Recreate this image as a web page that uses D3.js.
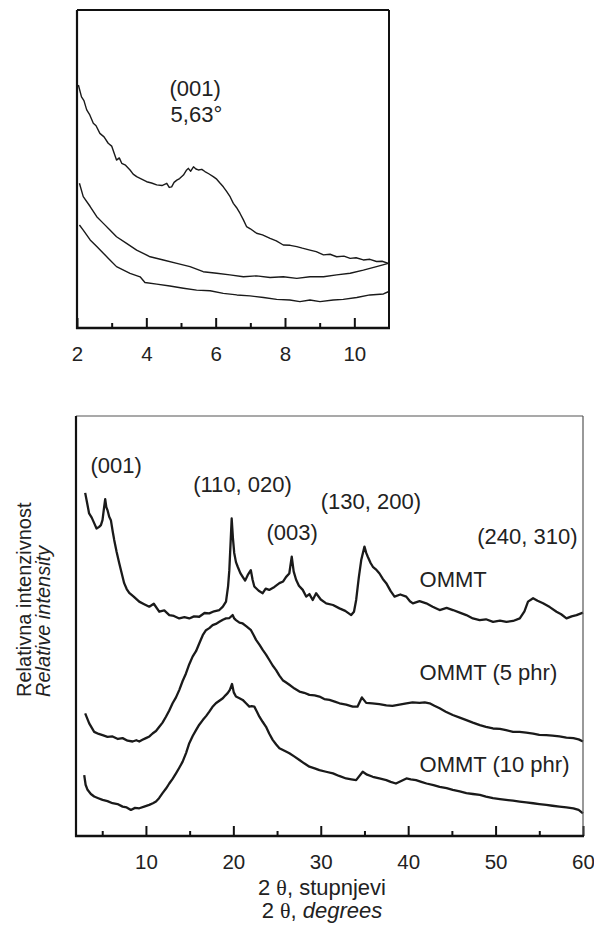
<!DOCTYPE html>
<html>
<head>
<meta charset="utf-8">
<script src="https://cdn.jsdelivr.net/npm/d3@7"></script>
<style>
  body { margin: 0; background: #fff; }
  svg { display: block; font-family: "Liberation Sans", Arial, sans-serif; }
</style>
</head>
<body>
<div id="chart"></div>
<script>
// Inset: low angle region, [2θ (deg), relative intensity 0-100]
const insetOmmt = [[2.04,76.4],[2.13,72.7],[2.2,71.5],[2.28,68.6],[2.36,67.2],[2.47,64.4],[2.55,63.6],[2.66,61.2],[2.78,60.1],[2.9,58.1],[3.0,57.2],[3.14,52.8],[3.22,53.5],[3.29,51.8],[3.4,51.2],[3.53,49.7],[3.62,48.4],[3.72,47.6],[3.85,46.9],[4.01,46.0],[4.15,45.6],[4.3,45.0],[4.45,44.8],[4.59,45.5],[4.66,44.2],[4.73,44.4],[4.8,45.8],[4.88,46.5],[4.96,47.0],[5.07,48.1],[5.15,49.5],[5.21,50.2],[5.28,49.3],[5.36,50.7],[5.43,50.0],[5.5,49.7],[5.6,49.9],[5.69,49.2],[5.8,48.5],[5.93,47.6],[6.03,46.8],[6.13,45.5],[6.22,44.4],[6.32,42.9],[6.42,41.2],[6.51,39.2],[6.6,37.9],[6.7,36.1],[6.8,34.0],[6.89,31.9],[7.0,31.2],[7.18,29.8],[7.35,29.3],[7.57,28.2],[7.75,27.4],[7.95,26.1],[8.15,26.0],[8.34,25.6],[8.5,25.1],[8.72,24.5],[8.9,24.0],[9.11,23.0],[9.3,23.2],[9.49,22.4],[9.7,22.6],[9.88,21.9],[10.05,22.1],[10.26,21.4],[10.45,21.6],[10.64,20.9],[10.8,21.0],[10.98,20.3]];
const insetPhr5 = [[2.07,45.5],[2.18,41.3],[2.38,38.2],[2.57,35.0],[2.76,32.9],[2.95,30.8],[3.14,28.7],[3.43,26.6],[3.72,24.5],[4.11,22.4],[4.49,21.4],[4.88,20.3],[5.26,19.3],[5.64,17.7],[6.03,17.2],[6.41,16.7],[6.8,16.1],[7.18,16.4],[7.57,15.9],[7.95,16.1],[8.34,15.6],[8.72,16.1],[9.11,16.1],[9.49,16.7],[9.88,17.2],[10.26,18.2],[10.64,19.3],[10.98,20.3]];
const insetPhr10 = [[2.07,32.4],[2.18,30.8],[2.38,27.7],[2.57,25.6],[2.76,23.5],[2.95,21.4],[3.14,19.3],[3.53,17.2],[3.82,16.1],[3.96,14.3],[4.3,13.8],[4.68,13.2],[5.07,12.5],[5.45,11.9],[5.84,11.7],[6.22,10.9],[6.61,10.4],[6.99,10.1],[7.38,9.6],[7.76,9.0],[8.14,8.8],[8.43,8.3],[8.72,8.8],[9.01,8.3],[9.39,8.8],[9.68,9.0],[10.07,9.6],[10.45,10.4],[10.84,10.7],[10.98,11.4]];

// Main pattern, [2θ (deg), relative intensity 0-100]
const ommt = [[3.05,81.7],[3.3,79.0],[3.5,76.8],[3.8,75.8],[4.08,74.5],[4.35,73.2],[4.65,73.6],[4.85,74.0],[5.03,75.2],[5.2,78.0],[5.34,80.2],[5.47,78.3],[5.6,77.6],[5.8,76.0],[5.99,75.2],[6.2,72.5],[6.37,70.5],[6.65,67.6],[6.94,65.0],[7.2,62.8],[7.51,60.2],[7.8,58.8],[8.09,57.9],[8.6,57.0],[9.23,55.8],[9.8,55.2],[10.38,54.6],[10.9,55.3],[11.52,53.4],[12.1,53.7],[12.67,52.6],[13.2,52.4],[13.81,51.8],[14.4,52.1],[14.96,51.8],[15.5,52.3],[16.1,52.2],[16.7,53.1],[17.25,53.0],[17.8,53.5],[18.4,53.8],[18.8,54.6],[19.16,55.8],[19.4,59.5],[19.54,63.3],[19.7,70.5],[19.81,75.6],[19.95,71.0],[20.1,67.4],[20.3,65.2],[20.5,64.1],[20.8,62.6],[21.07,61.7],[21.35,60.8],[21.64,62.1],[22.0,63.3],[22.2,61.0],[22.4,59.4],[22.9,58.4],[23.36,57.8],[23.7,58.9],[24.1,58.6],[24.7,59.3],[25.27,60.2],[25.7,60.6],[26.04,61.7],[26.4,62.5],[26.68,66.5],[26.9,63.0],[27.18,61.0],[27.5,59.6],[27.94,58.6],[28.33,57.0],[28.7,57.6],[29.08,56.2],[29.47,57.8],[30.0,56.3],[30.62,55.4],[31.4,55.0],[32.14,54.2],[32.8,53.6],[33.48,52.6],[33.8,53.4],[34.05,56.2],[34.35,61.5],[34.63,65.7],[35.0,68.9],[35.2,67.4],[35.38,66.5],[35.7,65.0],[35.96,64.1],[36.3,63.5],[36.72,62.5],[37.1,61.2],[37.49,60.2],[38.0,58.3],[38.44,57.0],[39.1,57.5],[39.78,57.0],[40.2,55.9],[40.54,55.4],[41.3,55.9],[42.07,55.4],[42.8,54.6],[43.6,53.8],[44.4,54.3],[45.12,53.8],[45.9,53.2],[46.65,52.6],[47.4,51.8],[48.18,51.4],[48.9,51.6],[49.71,51.0],[50.5,51.3],[51.24,51.0],[52.0,51.2],[52.77,51.8],[53.3,53.5],[53.71,55.8],[54.29,56.6],[54.8,56.0],[55.43,55.4],[56.2,54.5],[56.97,53.4],[57.5,52.8],[58.11,51.8],[58.7,52.3],[59.26,52.6],[60.0,53.2]];
const ommt5 = [[3.05,29.2],[3.51,26.8],[4.08,24.8],[4.6,24.3],[5.04,24.0],[5.6,23.6],[6.18,23.7],[6.8,23.1],[7.33,23.3],[7.9,22.7],[8.47,22.5],[8.9,22.8],[9.24,22.5],[9.6,22.9],[10.0,23.3],[10.4,23.7],[10.76,24.4],[11.15,25.0],[11.53,26.0],[11.9,27.0],[12.29,28.4],[12.67,29.9],[13.05,31.6],[13.44,33.0],[13.82,34.8],[14.2,36.9],[14.58,38.7],[14.96,40.9],[15.34,42.7],[15.73,44.0],[16.11,45.9],[16.5,47.8],[16.87,49.0],[17.25,49.5],[17.63,50.2],[18.0,50.5],[18.4,51.0],[18.8,51.5],[19.16,51.8],[19.55,51.9],[19.92,52.6],[20.1,51.8],[20.3,51.4],[20.7,50.8],[21.07,50.6],[21.5,49.9],[22.02,49.0],[22.3,47.9],[22.6,46.7],[23.0,45.5],[23.36,44.3],[23.74,43.2],[24.12,41.9],[24.5,40.6],[24.89,39.5],[25.27,38.2],[25.65,37.1],[26.0,36.6],[26.41,36.0],[27.0,35.1],[27.56,34.4],[28.1,34.1],[28.7,33.6],[29.3,33.5],[29.85,33.2],[30.4,32.6],[31.0,32.4],[31.6,32.0],[32.14,31.6],[32.9,31.3],[33.66,30.8],[34.2,30.8],[34.7,33.0],[35.2,31.7],[35.9,31.6],[36.7,31.4],[37.5,31.1],[38.2,31.0],[39.0,31.3],[39.8,31.6],[40.5,31.8],[41.3,31.7],[41.9,31.8],[42.45,31.6],[43.0,31.0],[43.6,30.4],[44.3,29.6],[45.1,28.8],[45.9,28.2],[46.66,27.6],[47.4,27.0],[48.2,26.4],[48.9,26.0],[49.7,25.6],[50.5,25.5],[51.2,25.2],[52.0,24.8],[52.75,24.8],[53.5,24.6],[54.3,24.4],[55.0,24.1],[55.8,24.0],[56.5,23.9],[57.3,23.7],[58.1,23.4],[58.9,23.3],[59.5,23.0],[60.0,22.5]];
const ommt10 = [[2.94,14.5],[3.1,12.2],[3.32,11.0],[3.7,10.0],[4.08,9.4],[4.55,9.0],[5.04,8.6],[5.6,8.3],[6.18,7.8],[6.75,7.6],[7.33,7.0],[7.8,6.8],[8.28,6.2],[8.75,6.7],[9.24,6.6],[9.8,7.0],[10.38,7.4],[10.8,7.8],[11.15,8.2],[11.5,9.0],[11.9,10.2],[12.3,11.3],[12.67,12.5],[13.05,13.6],[13.44,14.9],[13.8,16.2],[14.2,17.7],[14.6,19.8],[14.96,22.1],[15.35,23.8],[15.73,25.2],[16.1,26.5],[16.5,27.6],[16.9,28.6],[17.25,29.6],[17.6,30.7],[18.0,31.6],[18.4,32.2],[18.8,32.8],[19.1,33.5],[19.35,34.0],[19.6,34.8],[19.85,36.2],[20.05,34.2],[20.3,33.2],[20.7,32.8],[21.07,32.4],[21.45,31.6],[21.83,30.8],[22.1,30.9],[22.4,30.8],[22.7,29.6],[22.98,28.4],[23.35,27.2],[23.74,26.0],[24.1,24.4],[24.5,22.9],[24.9,21.8],[25.27,20.9],[25.85,20.3],[26.41,19.7],[27.0,18.9],[27.56,18.1],[28.1,17.3],[28.7,16.5],[29.3,16.1],[29.85,15.7],[30.6,15.3],[31.4,14.9],[32.1,14.3],[32.9,13.7],[33.5,13.5],[34.05,13.3],[34.8,15.3],[35.3,14.6],[35.95,14.1],[36.7,13.7],[37.5,13.3],[38.0,12.9],[38.6,12.5],[39.2,13.1],[39.8,13.7],[40.3,13.5],[40.9,13.3],[41.5,12.9],[42.1,12.5],[42.9,12.1],[43.6,11.7],[44.4,11.4],[45.1,11.0],[45.9,10.6],[46.66,10.2],[47.4,10.0],[48.2,9.8],[48.9,9.4],[49.7,9.0],[50.5,8.8],[51.2,8.6],[52.0,8.4],[52.75,8.2],[53.5,8.0],[54.3,7.8],[55.0,7.6],[55.8,7.4],[56.5,7.2],[57.3,7.0],[58.1,6.8],[58.9,6.6],[59.5,6.2],[60.0,5.4]];

// Tick values
const insetMajor = [2, 4, 6, 8, 10];
const insetMinor = [3, 5, 7, 9];
const mainMajor = [10, 20, 30, 40, 50, 60];
const mainMinor = [5, 15, 25, 35, 45, 55];

// Peak labels: [text, 2θ position of left edge, intensity of baseline]
const insetLabels = [["(001)", 4.67, 72.8], ["5,63°", 4.7, 64.7]];
const mainLabels = [
    ["(001)", 3.65, 86.4], ["(110, 020)", 15.4, 81.9], ["(003)", 23.8, 70.5],
    ["(130, 200)", 30.0, 77.9], ["(240, 310)", 47.9, 69.5],
    ["OMMT", 41.3, 59.4], ["OMMT (5 phr)", 41.3, 37.1], ["OMMT (10 phr)", 41.3, 15.2]
];

const W = 594, H = 931;
const svg = d3.select("#chart").append("svg")
    .attr("width", W)
    .attr("height", H);

function drawPanel(opt) {
    const x = d3.scaleLinear().domain(opt.xDomain).range([opt.left, opt.right]);
    const y = d3.scaleLinear().domain([0, 100]).range([opt.bottom, opt.top]);

    // major ticks + labels (inward)
    const ax = svg.append("g")
        .attr("transform", `translate(0,${opt.bottom})`)
        .call(d3.axisBottom(x).tickValues(opt.major).tickSizeInner(-10).tickSizeOuter(0).tickPadding(18));
    ax.select(".domain").remove();
    ax.selectAll("line").attr("stroke", "#111").attr("stroke-width", 2);
    ax.selectAll("text")
        .style("font-family", "'Liberation Sans', Arial, sans-serif")
        .style("font-size", "20.5px")
        .attr("fill", "#222");

    // minor ticks
    const mi = svg.append("g")
        .attr("transform", `translate(0,${opt.bottom})`)
        .call(d3.axisBottom(x).tickValues(opt.minor).tickSizeInner(-5).tickSizeOuter(0).tickFormat(""));
    mi.select(".domain").remove();
    mi.selectAll("line").attr("stroke", "#111").attr("stroke-width", 2);

    // curves
    const line = d3.line().x(d => x(d[0])).y(d => y(d[1]));
    opt.series.forEach(s => {
        svg.append("path")
            .datum(s)
            .attr("d", line)
            .attr("fill", "none")
            .attr("stroke", "#1a1a1a")
            .attr("stroke-width", opt.lineWidth)
            .attr("stroke-linejoin", "round");
    });

    // frame
    svg.append("line").attr("x1", opt.left).attr("x2", opt.right).attr("y1", opt.top).attr("y2", opt.top)
        .attr("stroke", opt.thinEdge ? "#555" : "#111").attr("stroke-width", opt.thinEdge ? 1.2 : 2);
    svg.append("line").attr("x1", opt.right).attr("x2", opt.right).attr("y1", opt.top).attr("y2", opt.bottom)
        .attr("stroke", opt.thinEdge ? "#555" : "#111").attr("stroke-width", opt.thinEdge ? 1.2 : 2);
    svg.append("line").attr("x1", opt.left).attr("x2", opt.left).attr("y1", opt.top).attr("y2", opt.bottom + 1)
        .attr("stroke", "#111").attr("stroke-width", 2.2);
    svg.append("line").attr("x1", opt.left - 1).attr("x2", opt.right + 1).attr("y1", opt.bottom).attr("y2", opt.bottom)
        .attr("stroke", "#111").attr("stroke-width", 2.4);

    // peak labels
    opt.labels.forEach(l => {
        svg.append("text")
            .attr("x", x(l[1]))
            .attr("y", y(l[2]))
            .attr("font-size", "22px")
            .attr("fill", "#222")
            .text(l[0]);
    });
}

drawPanel({
    xDomain: [2, 11], left: 77, right: 389, top: 10, bottom: 328,
    major: insetMajor, minor: insetMinor,
    series: [insetOmmt, insetPhr5, insetPhr10], lineWidth: 1.4,
    labels: insetLabels, thinEdge: false
});

drawPanel({
    xDomain: [2, 60], left: 76, right: 583, top: 416, bottom: 836,
    major: mainMajor, minor: mainMinor,
    series: [ommt, ommt5, ommt10], lineWidth: 2.3,
    labels: mainLabels, thinEdge: true
});

// X axis title (two languages)
function thetaTitle(yPos, word, italic) {
    const t = svg.append("text")
        .attr("x", 322)
        .attr("y", yPos)
        .attr("text-anchor", "middle")
        .attr("font-size", "22px")
        .attr("fill", "#222");
    t.append("tspan").text("2 ");
    t.append("tspan").attr("font-family", "'Liberation Serif', 'DejaVu Serif', serif").text("θ");
    t.append("tspan").text(", ");
    t.append("tspan").attr("font-style", italic ? "italic" : "normal").text(word);
}
thetaTitle(895, "stupnjevi", false);
thetaTitle(918, "degrees", true);

// Y axis title
svg.append("text")
    .attr("transform", "translate(31,697) rotate(-90)")
    .attr("font-size", "20px")
    .attr("fill", "#222")
    .text("Relativna intenzivnost");
svg.append("text")
    .attr("transform", "translate(50,697) rotate(-90)")
    .attr("font-size", "20px")
    .attr("font-style", "italic")
    .attr("fill", "#222")
    .text("Relative intensity");
</script>
</body>
</html>
